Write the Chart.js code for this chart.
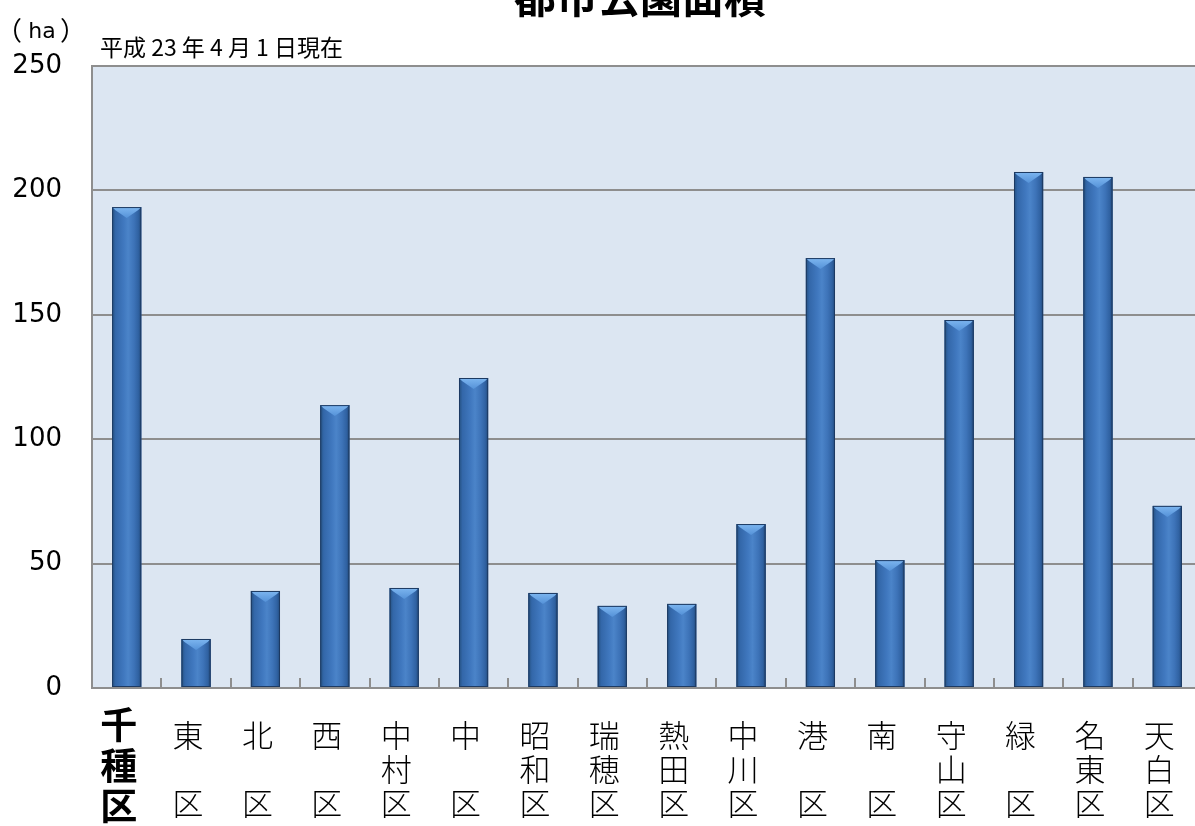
<!DOCTYPE html>
<html lang="ja">
<head>
<meta charset="utf-8">
<title>都市公園面積</title>
<script src="https://cdn.jsdelivr.net/npm/chart.js@4/dist/chart.umd.min.js"></script>
<style>
  html, body { margin: 0; padding: 0; background: #fff; overflow: hidden; }
  #wrap { position: relative; width: 1204px; height: 826px; }
</style>
</head>
<body>
<div id="wrap"><canvas id="chart" width="1204" height="826"></canvas></div>
<script>
// 区別の都市公園面積（ha）
const districts = [
  ["千", "種", "区"], ["東", "", "区"], ["北", "", "区"], ["西", "", "区"],
  ["中", "村", "区"], ["中", "", "区"], ["昭", "和", "区"], ["瑞", "穂", "区"],
  ["熱", "田", "区"], ["中", "川", "区"], ["港", "", "区"], ["南", "", "区"],
  ["守", "山", "区"], ["緑", "", "区"], ["名", "東", "区"], ["天", "白", "区"]
];
const parkArea = [193.3, 19.7, 39.0, 113.7, 40.2, 124.6, 38.2, 33.0, 33.8, 65.9, 172.8, 51.4, 147.9, 207.4, 205.4, 73.2];
const yTicks = [0, 50, 100, 150, 200, 250];

const titleText = "都市公園面積";
const noteText = "平成 23 年 4 月 1 日現在";
const unitText = ["（", "ha", "）"];

const CJK = "'Noto Sans CJK JP', 'Noto Sans', sans-serif";
const LATIN = "'DejaVu Sans', Verdana, sans-serif";
const GRID = "#8e8e8e";

// plot background, header texts
const backdrop = {
  id: "backdrop",
  beforeDraw(chart) {
    const { ctx, chartArea: a } = chart;
    ctx.save();
    ctx.fillStyle = "#dce6f2";
    ctx.fillRect(a.left, a.top, a.right - a.left, a.bottom - a.top);
    ctx.restore();
  },
  afterDraw(chart) {
    const { ctx } = chart;
    ctx.save();
    ctx.fillStyle = "#000";
    ctx.textBaseline = "alphabetic";
    ctx.font = "bold 42px " + CJK;
    ctx.textAlign = "center";
    ctx.fillText(titleText, 640, 13);

    ctx.textAlign = "left";
    ctx.font = "23px " + CJK;
    ctx.fillText(noteText, 100, 56);

    // unit label: wide brackets around "ha"
    ctx.textAlign = "center";
    ctx.font = "26px " + CJK;
    ctx.fillText(unitText[0], 9, 40);
    ctx.fillText(unitText[2], 73, 40);
    ctx.font = "22px " + LATIN;
    ctx.fillText(unitText[1], 42, 38);
    ctx.restore();
  }
};

// small inward ticks between categories on the bottom axis
const innerTicks = {
  id: "innerTicks",
  afterDatasetsDraw(chart) {
    const { ctx, scales: { x }, chartArea: a } = chart;
    ctx.save();
    ctx.strokeStyle = GRID;
    ctx.lineWidth = 2;
    for (let i = 1; i < districts.length; i++) {
      const px = Math.round(x.getPixelForValue(i - 0.5));
      ctx.beginPath();
      ctx.moveTo(px, a.bottom);
      ctx.lineTo(px, a.bottom - 10);
      ctx.stroke();
    }
    ctx.restore();
  }
};

// bevelled look on each bar
const bevel = {
  id: "bevel",
  afterDatasetsDraw(chart) {
    const { ctx } = chart;
    const meta = chart.getDatasetMeta(0);
    ctx.save();
    meta.data.forEach((bar) => {
      const { x, y, base, width } = bar.getProps(["x", "y", "base", "width"], true);
      const l = x - width / 2, r = x + width / 2;
      const g = ctx.createLinearGradient(l, 0, r, 0);
      g.addColorStop(0, "#24507f");
      g.addColorStop(0.12, "#3367a9");
      g.addColorStop(0.4, "#4078bf");
      g.addColorStop(0.55, "#4b84c9");
      g.addColorStop(0.75, "#3d73b8");
      g.addColorStop(0.9, "#3062a2");
      g.addColorStop(1, "#22497a");
      ctx.fillStyle = g;
      ctx.fillRect(l, y, width, base - y);

      const cap = Math.min(11, (base - y) / 2);
      const tg = ctx.createLinearGradient(0, y, 0, y + cap);
      tg.addColorStop(0, "#7db6f0");
      tg.addColorStop(1, "#5592d8");
      ctx.fillStyle = tg;
      ctx.beginPath();
      ctx.moveTo(l, y);
      ctx.lineTo(r, y);
      ctx.lineTo(r - 3, y + 3);
      ctx.lineTo(x, y + cap);
      ctx.lineTo(l + 3, y + 3);
      ctx.closePath();
      ctx.fill();

      ctx.strokeStyle = "#1d3a62";
      ctx.lineWidth = 1;
      ctx.strokeRect(l + 0.5, y + 0.5, width - 1, base - y - 1);
    });
    ctx.restore();
  }
};

new Chart(document.getElementById("chart"), {
  type: "bar",
  data: {
    labels: districts,
    datasets: [{
      label: titleText,
      data: parkArea,
      backgroundColor: "#3b6fb4",
      borderWidth: 0,
      categoryPercentage: 1,
      barPercentage: 0.42
    }]
  },
  options: {
    responsive: false,
    animation: false,
    events: [],
    layout: { padding: { top: 66, left: 0, right: 2, bottom: 0 } },
    plugins: {
      legend: { display: false },
      title: { display: false },
      tooltip: { enabled: false }
    },
    scales: {
      x: {
        afterFit: (s) => {
          s.height = 138;
          s.paddingLeft = 0;
          s.paddingRight = 0;
        },
        grid: { display: false, drawTicks: false },
        border: { display: true, color: GRID, width: 2 },
        ticks: {
          color: "#000",
          padding: 37,
          labelOffset: -8,
          crossAlign: "center",
          maxRotation: 0,
          autoSkip: false,
          font: (c) => c.index === 0
            ? { family: CJK, size: 37, weight: "bold", lineHeight: 1.1 }
            : { family: CJK, size: 31, weight: 300, lineHeight: 1.1 }
        }
      },
      y: {
        min: 0,
        max: 250,
        afterFit: (s) => { s.width = 92; },
        afterBuildTicks: (s) => { s.ticks = yTicks.map((v) => ({ value: v })); },
        grid: { color: GRID, lineWidth: 2, drawTicks: false },
        border: { display: true, color: GRID, width: 2 },
        ticks: {
          color: "#000",
          padding: 30,
          font: { family: LATIN, size: 26 }
        }
      }
    }
  },
  plugins: [backdrop, innerTicks, bevel]
});
</script>
</body>
</html>
